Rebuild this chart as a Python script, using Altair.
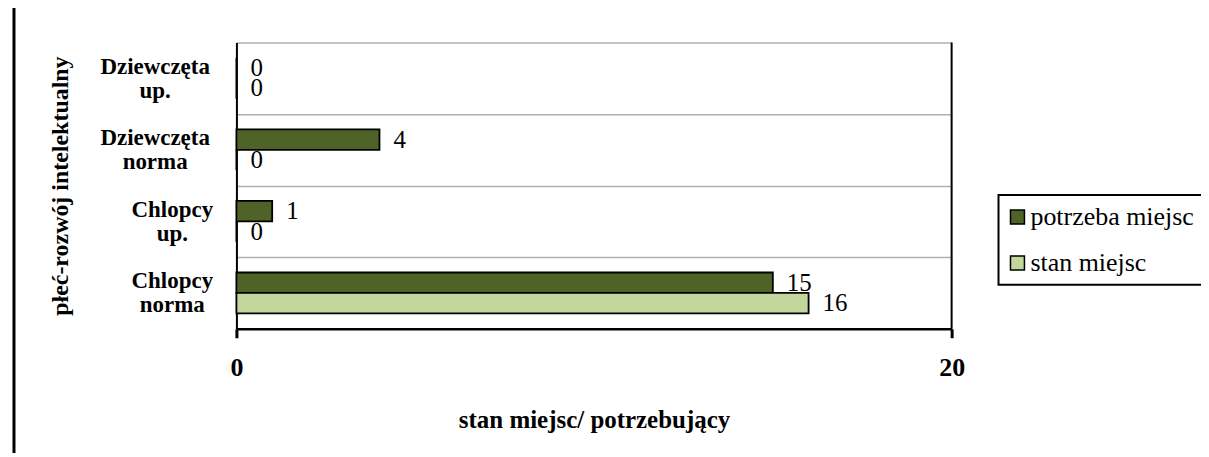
import altair as alt
import pandas as pd

categories = ["Dziewczęta up.", "Dziewczęta norma", "Chlopcy up.", "Chlopcy norma"]
series = ["potrzeba miejsc", "stan miejsc"]
potrzeba = [0, 4, 1, 15]
stan = [0, 0, 0, 16]
x_ticks = [0, 20]
colors = ["#4F6228", "#C3D69B"]

rows = []
for c, p, s in zip(categories, potrzeba, stan):
    rows.append({"kat": c, "seria": series[0], "val": p})
    rows.append({"kat": c, "seria": series[1], "val": s})
df = pd.DataFrame(rows)

W, H = 717, 287
SERIF = "Liberation Serif"
# zero-width space keeps the following em/en spaces from being trimmed
PAD = "\u200b\u2003\u2002"

label_expr = (
    "isValid(datum.value) ? (indexof(datum.value, 'Chlopcy') >= 0 ? "
    f"['{PAD}' + split(datum.value, ' ')[0], '{PAD}' + split(datum.value, ' ')[1]] "
    ": split(datum.value, ' ')) : ''"
)

y_axis = alt.Axis(
    title="płeć-rozwój intelektualny",
    titleFont=SERIF, titleFontSize=24, titleFontWeight="bold", titleColor="black",
    titleX=-176, titleY=H / 2, titleAngle=270, titleAlign="center", titleBaseline="middle",
    labelFont=SERIF, labelFontSize=23, labelFontWeight="bold", labelColor="black",
    labelAlign="center", labelBaseline="middle", labelPadding=82, labelOffset=-12,
    labelExpr=label_expr,
    labelLineHeight=24, labelOverlap=False, labelLimit=0,
    ticks=False, tickSize=0,
    domain=True, domainColor="black", domainWidth=2,
    grid=True, gridColor="#b0b0b0", gridWidth=1.5, tickBand="extent",
)

x_axis = alt.Axis(
    values=x_ticks, format="d",
    title="stan miejsc/ potrzebujący",
    titleFont=SERIF, titleFontSize=25, titleFontWeight="bold", titleColor="black",
    titleX=W / 2, titleY=91, titleAlign="center", titleBaseline="middle",
    labelFont=SERIF, labelFontSize=26, labelFontWeight="bold", labelColor="black",
    labelPadding=17, labelFlush=False,
    tickSize=9, tickWidth=3, tickColor="black",
    domainColor="black", domainWidth=2.5, grid=False,
)

y_enc = alt.Y("kat:N", sort=categories, scale=alt.Scale(paddingInner=0, paddingOuter=0), axis=y_axis)
yoff_enc = alt.YOffset("seria:N", sort=series,
                       scale=alt.Scale(domain=series, paddingInner=0, paddingOuter=0.75))
x_enc = alt.X("val:Q", scale=alt.Scale(domain=[0, 20], nice=False), axis=x_axis)

bars = alt.Chart(df).mark_bar(stroke="black", strokeWidth=1.8).encode(
    x=x_enc,
    y=y_enc,
    yOffset=yoff_enc,
    color=alt.Color(
        "seria:N",
        sort=series,
        scale=alt.Scale(domain=series, range=colors),
        legend=alt.Legend(
            title=None, orient="none", legendX=764, legendY=153,
            fillColor="white", strokeColor="black", padding=9,
            symbolType="square", symbolSize=196, symbolStrokeColor="black",
            symbolStrokeWidth=1.5, symbolOffset=-3, labelFont=SERIF, labelFontSize=26,
            labelColor="black", rowPadding=20, labelOffset=0, labelLimit=0,
        ),
    ),
)

labels = alt.Chart(df).mark_text(
    align="left", baseline="middle", dx=14, font=SERIF, fontSize=25, color="black"
).encode(
    x=alt.X("val:Q"),
    y=alt.Y("kat:N", sort=categories),
    yOffset=alt.YOffset("seria:N", sort=series),
    text="val:Q",
)

frame_df = pd.DataFrame({"a": [0]})
right_border = alt.Chart(frame_df).mark_rule(color="black", strokeWidth=2).encode(
    x=alt.value(W), y=alt.value(0), y2=alt.value(H)
)
left_frame = alt.Chart(frame_df).mark_rule(color="black", strokeWidth=3).encode(
    x=alt.value(-223), y=alt.value(-40), y2=alt.value(H + 140)
)

chart = alt.layer(bars, labels, right_border, left_frame).properties(
    width=W, height=H,
    padding={"left": 229, "top": 34, "right": 250, "bottom": 124},
    autosize="none",
    background="white",
).configure(font=SERIF).configure_view(stroke=None).configure_legend(strokeWidth=2)

chart.save("out.html", embed_options={"renderer": "svg", "actions": False})
